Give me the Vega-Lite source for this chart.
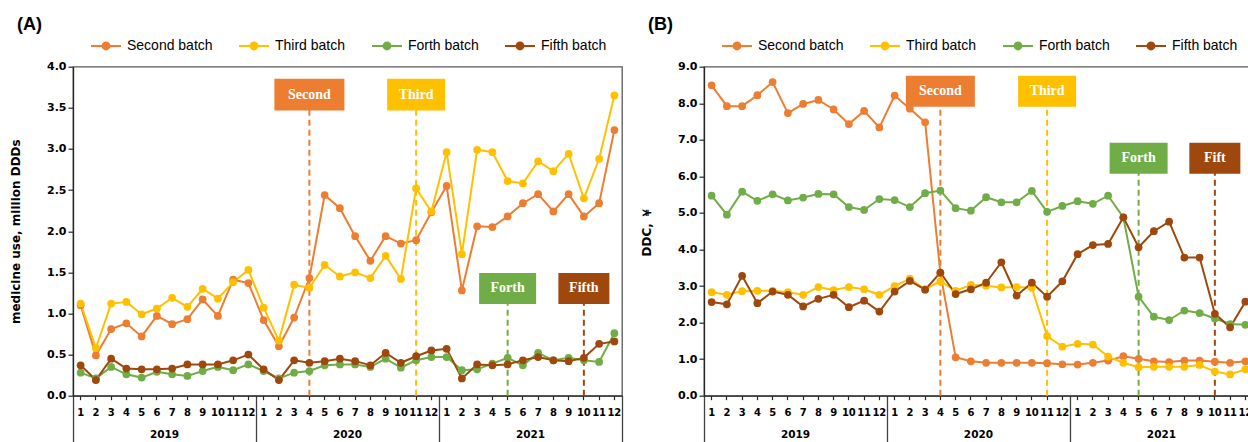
{
  "$schema": "https://vega.github.io/schema/vega-lite/v6.json",
  "background": "white",
  "padding": {"left": 8, "top": 14.7, "right": 0, "bottom": 0},
  "spacing": 15,
  "config": {
    "font": "Liberation Sans",
    "view": {"stroke": "#595959", "strokeWidth": 1.3},
    "axis": {"labelFont": "DejaVu Sans", "labelFontWeight": "bold", "labelColor": "#000", "domainColor": "#262626", "domainWidth": 1.3, "tickColor": "#262626", "tickWidth": 1.2, "grid": false, "titleFont": "DejaVu Sans", "titleFontWeight": "bold", "titleColor": "#000"},
    "axisY": {"format": ".1f", "labelFontSize": 11, "labelOverlap": false, "labelSeparation": 0, "tickSize": 5, "labelPadding": 2, "titleFontSize": 12, "titlePadding": 24},
    "legend": {"orient": "none", "direction": "horizontal", "columns": 4, "columnPadding": 22, "padding": 0, "labelFont": "Liberation Sans", "labelFontSize": 14, "labelColor": "#000", "labelOffset": 5, "symbolType": "M-1,0L1,0M0.23,0A0.23,0.23,0,1,1,-0.23,0A0.23,0.23,0,1,1,0.23,0M0.13,0A0.13,0.13,0,1,1,-0.13,0A0.13,0.13,0,1,1,0.13,0M0.04,0A0.04,0.04,0,1,1,-0.04,0A0.04,0.04,0,1,1,0.04,0", "symbolSize": 900, "symbolStrokeWidth": 2, "title": null}
  },
  "resolve": {"scale": {"color": "independent"}, "legend": {"color": "independent"}},
  "hconcat": [
    {
      "width": 549, "height": 329,
      "title": {"text": "(A)", "anchor": "start", "frame": "group", "font": "Liberation Sans", "fontSize": 18, "fontWeight": "bold", "color": "#000", "dx": -56, "dy": 4, "offset": 0},
      "resolve": {"axis": {"x": "independent"}},
      "layer": [
        {
          "data": {"values": [{"t": "2020-04", "label": "Second"}]},
          "layer": [
            {"mark": {"type": "rule", "color": "#ED7D31", "strokeWidth": 2, "strokeDash": [6, 4]},
             "encoding": {"x": {"field": "t", "type": "ordinal", "scale": {"type": "band", "paddingInner": 0, "paddingOuter": 0}, "axis": {"orient": "bottom", "values": ["2019-01", "2020-01", "2021-01"], "bandPosition": 0, "tickSize": 47, "labels": false, "domain": false, "title": null, "tickColor": "#404040", "tickWidth": 1.3}},
                          "y": {"datum": 0, "type": "quantitative", "axis": {"values": [0, 0.5, 1, 1.5, 2, 2.5, 3, 3.5, 4], "title": "medicine use, million DDDs"}}, "y2": {"datum": 3.66}}},
            {"mark": {"type": "rect", "color": "#ED7D31", "width": 70},
             "encoding": {"x": {"field": "t", "type": "ordinal"}, "y": {"datum": 3.854, "type": "quantitative", "axis": {"values": [0, 0.5, 1, 1.5, 2, 2.5, 3, 3.5, 4], "title": "medicine use, million DDDs"}}, "y2": {"datum": 3.468}}},
            {"mark": {"type": "text", "color": "white", "font": "Liberation Serif", "fontWeight": "bold", "fontSize": 14, "baseline": "middle", "align": "center"},
             "encoding": {"x": {"field": "t", "type": "ordinal"}, "y": {"datum": 3.661, "type": "quantitative", "axis": {"values": [0, 0.5, 1, 1.5, 2, 2.5, 3, 3.5, 4], "title": "medicine use, million DDDs"}}, "text": {"field": "label"}}}
          ]
        },
        {
          "data": {"values": [{"t": "2020-11", "label": "Third"}]},
          "layer": [
            {"mark": {"type": "rule", "color": "#FFC000", "strokeWidth": 2, "strokeDash": [6, 4]},
             "encoding": {"x": {"field": "t", "type": "ordinal", "axis": {"orient": "bottom", "values": ["2021-12"], "bandPosition": 1, "tickSize": 47, "labels": false, "domain": false, "title": null, "tickColor": "#404040", "tickWidth": 1.3}},
                          "y": {"datum": 0, "type": "quantitative", "axis": {"values": [0, 0.5, 1, 1.5, 2, 2.5, 3, 3.5, 4], "title": "medicine use, million DDDs"}}, "y2": {"datum": 3.66}}},
            {"mark": {"type": "rect", "color": "#FFC000", "width": 58},
             "encoding": {"x": {"field": "t", "type": "ordinal"}, "y": {"datum": 3.854, "type": "quantitative", "axis": {"values": [0, 0.5, 1, 1.5, 2, 2.5, 3, 3.5, 4], "title": "medicine use, million DDDs"}}, "y2": {"datum": 3.468}}},
            {"mark": {"type": "text", "color": "white", "font": "Liberation Serif", "fontWeight": "bold", "fontSize": 14, "baseline": "middle", "align": "center"},
             "encoding": {"x": {"field": "t", "type": "ordinal"}, "y": {"datum": 3.661, "type": "quantitative", "axis": {"values": [0, 0.5, 1, 1.5, 2, 2.5, 3, 3.5, 4], "title": "medicine use, million DDDs"}}, "text": {"field": "label"}}}
          ]
        },
        {
          "data": {"values": [{"t": "2021-05", "label": "Forth"}]},
          "layer": [
            {"mark": {"type": "rule", "color": "#70AD47", "strokeWidth": 2, "strokeDash": [6, 4]},
             "encoding": {"x": {"field": "t", "type": "ordinal", "axis": null}, "y": {"datum": 0, "type": "quantitative", "axis": {"values": [0, 0.5, 1, 1.5, 2, 2.5, 3, 3.5, 4], "title": "medicine use, million DDDs"}}, "y2": {"datum": 1.3}}},
            {"mark": {"type": "rect", "color": "#70AD47", "width": 57},
             "encoding": {"x": {"field": "t", "type": "ordinal", "axis": null}, "y": {"datum": 1.493, "type": "quantitative", "axis": {"values": [0, 0.5, 1, 1.5, 2, 2.5, 3, 3.5, 4], "title": "medicine use, million DDDs"}}, "y2": {"datum": 1.116}}},
            {"mark": {"type": "text", "color": "white", "font": "Liberation Serif", "fontWeight": "bold", "fontSize": 14, "baseline": "middle", "align": "center"},
             "encoding": {"x": {"field": "t", "type": "ordinal", "axis": null}, "y": {"datum": 1.305, "type": "quantitative", "axis": {"values": [0, 0.5, 1, 1.5, 2, 2.5, 3, 3.5, 4], "title": "medicine use, million DDDs"}}, "text": {"field": "label"}}}
          ]
        },
        {
          "data": {"values": [{"t": "2021-10", "label": "Fifth"}]},
          "layer": [
            {"mark": {"type": "rule", "color": "#9E480E", "strokeWidth": 2, "strokeDash": [6, 4]},
             "encoding": {"x": {"field": "t", "type": "ordinal", "axis": null}, "y": {"datum": 0, "type": "quantitative", "axis": {"values": [0, 0.5, 1, 1.5, 2, 2.5, 3, 3.5, 4], "title": "medicine use, million DDDs"}}, "y2": {"datum": 1.3}}},
            {"mark": {"type": "rect", "color": "#9E480E", "width": 51},
             "encoding": {"x": {"field": "t", "type": "ordinal", "axis": null}, "y": {"datum": 1.493, "type": "quantitative", "axis": {"values": [0, 0.5, 1, 1.5, 2, 2.5, 3, 3.5, 4], "title": "medicine use, million DDDs"}}, "y2": {"datum": 1.116}}},
            {"mark": {"type": "text", "color": "white", "font": "Liberation Serif", "fontWeight": "bold", "fontSize": 14, "baseline": "middle", "align": "center"},
             "encoding": {"x": {"field": "t", "type": "ordinal", "axis": null}, "y": {"datum": 1.305, "type": "quantitative", "axis": {"values": [0, 0.5, 1, 1.5, 2, 2.5, 3, 3.5, 4], "title": "medicine use, million DDDs"}}, "text": {"field": "label"}}}
          ]
        },
        {
          "data": {"name": "a"},
          "transform": [{"fold": ["Second batch", "Third batch", "Forth batch", "Fifth batch"], "as": ["batch", "v"]}],
          "mark": {"type": "line", "strokeWidth": 2},
          "encoding": {
            "x": {"field": "t", "type": "ordinal", "axis": {"orient": "bottom", "labelExpr": "toNumber(substring(datum.value,5,7))", "labelAngle": 0, "labelFontSize": 10, "tickSize": 4, "labelPadding": 8, "labelOverlap": false, "title": null}},
            "y": {"field": "v", "type": "quantitative", "scale": {"domain": [0, 4], "nice": false}, "axis": {"values": [0, 0.5, 1, 1.5, 2, 2.5, 3, 3.5, 4], "title": "medicine use, million DDDs"}},
            "color": {"field": "batch", "type": "nominal", "sort": null, "scale": {"domain": ["Second batch", "Third batch", "Forth batch", "Fifth batch"], "range": ["#ED7D31", "#FFC000", "#70AD47", "#9E480E"]}, "legend": {"legendX": 17, "legendY": -37}}
          }
        },
        {
          "data": {"name": "a"},
          "transform": [{"fold": ["Second batch", "Third batch", "Forth batch", "Fifth batch"], "as": ["batch", "v"]}],
          "mark": {"type": "point", "filled": true, "opacity": 1, "size": 60},
          "encoding": {
            "x": {"field": "t", "type": "ordinal", "axis": {"orient": "bottom", "labelExpr": "substring(datum.value,5,7)=='06' ? substring(datum.value,0,4) : ''", "labelOffset": 7.6, "ticks": false, "tickSize": 0, "domain": false, "labelPadding": 34, "labelFontSize": 10.5, "labelOverlap": false, "labelAngle": 0, "title": null}},
            "y": {"field": "v", "type": "quantitative", "axis": {"values": [0, 0.5, 1, 1.5, 2, 2.5, 3, 3.5, 4], "title": "medicine use, million DDDs"}},
            "color": {"field": "batch", "type": "nominal", "legend": null}
          }
        }
      ]
    },
    {
      "width": 549, "height": 329,
      "title": {"text": "(B)", "anchor": "start", "frame": "group", "font": "Liberation Sans", "fontSize": 18, "fontWeight": "bold", "color": "#000", "dx": -56, "dy": 4, "offset": 0},
      "resolve": {"axis": {"x": "independent"}},
      "layer": [
        {
          "data": {"values": [{"t": "2020-04", "label": "Second"}]},
          "layer": [
            {"mark": {"type": "rule", "color": "#ED7D31", "strokeWidth": 2, "strokeDash": [6, 4]},
             "encoding": {"x": {"field": "t", "type": "ordinal", "scale": {"type": "band", "paddingInner": 0, "paddingOuter": 0}, "axis": {"orient": "bottom", "values": ["2019-01", "2020-01", "2021-01"], "bandPosition": 0, "tickSize": 47, "labels": false, "domain": false, "title": null, "tickColor": "#404040", "tickWidth": 1.3}},
                          "y": {"datum": 0, "type": "quantitative", "axis": {"values": [0, 1, 2, 3, 4, 5, 6, 7, 8, 9], "title": "DDC, ￥"}}, "y2": {"datum": 8.33}}},
            {"mark": {"type": "rect", "color": "#ED7D31", "width": 69},
             "encoding": {"x": {"field": "t", "type": "ordinal"}, "y": {"datum": 8.752, "type": "quantitative", "axis": {"values": [0, 1, 2, 3, 4, 5, 6, 7, 8, 9], "title": "DDC, ￥"}}, "y2": {"datum": 7.903}}},
            {"mark": {"type": "text", "color": "white", "font": "Liberation Serif", "fontWeight": "bold", "fontSize": 14, "baseline": "middle", "align": "center"},
             "encoding": {"x": {"field": "t", "type": "ordinal"}, "y": {"datum": 8.33, "type": "quantitative", "axis": {"values": [0, 1, 2, 3, 4, 5, 6, 7, 8, 9], "title": "DDC, ￥"}}, "text": {"field": "label"}}}
          ]
        },
        {
          "data": {"values": [{"t": "2020-11", "label": "Third"}]},
          "layer": [
            {"mark": {"type": "rule", "color": "#FFC000", "strokeWidth": 2, "strokeDash": [6, 4]},
             "encoding": {"x": {"field": "t", "type": "ordinal", "axis": {"orient": "bottom", "values": ["2021-12"], "bandPosition": 1, "tickSize": 47, "labels": false, "domain": false, "title": null, "tickColor": "#404040", "tickWidth": 1.3}},
                          "y": {"datum": 0, "type": "quantitative", "axis": {"values": [0, 1, 2, 3, 4, 5, 6, 7, 8, 9], "title": "DDC, ￥"}}, "y2": {"datum": 8.33}}},
            {"mark": {"type": "rect", "color": "#FFC000", "width": 58},
             "encoding": {"x": {"field": "t", "type": "ordinal"}, "y": {"datum": 8.752, "type": "quantitative", "axis": {"values": [0, 1, 2, 3, 4, 5, 6, 7, 8, 9], "title": "DDC, ￥"}}, "y2": {"datum": 7.903}}},
            {"mark": {"type": "text", "color": "white", "font": "Liberation Serif", "fontWeight": "bold", "fontSize": 14, "baseline": "middle", "align": "center"},
             "encoding": {"x": {"field": "t", "type": "ordinal"}, "y": {"datum": 8.33, "type": "quantitative", "axis": {"values": [0, 1, 2, 3, 4, 5, 6, 7, 8, 9], "title": "DDC, ￥"}}, "text": {"field": "label"}}}
          ]
        },
        {
          "data": {"values": [{"t": "2021-05", "label": "Forth"}]},
          "layer": [
            {"mark": {"type": "rule", "color": "#70AD47", "strokeWidth": 2, "strokeDash": [6, 4]},
             "encoding": {"x": {"field": "t", "type": "ordinal", "axis": null}, "y": {"datum": 0, "type": "quantitative", "axis": {"values": [0, 1, 2, 3, 4, 5, 6, 7, 8, 9], "title": "DDC, ￥"}}, "y2": {"datum": 6.49}}},
            {"mark": {"type": "rect", "color": "#70AD47", "width": 58},
             "encoding": {"x": {"field": "t", "type": "ordinal", "axis": null}, "y": {"datum": 6.918, "type": "quantitative", "axis": {"values": [0, 1, 2, 3, 4, 5, 6, 7, 8, 9], "title": "DDC, ￥"}}, "y2": {"datum": 6.069}}},
            {"mark": {"type": "text", "color": "white", "font": "Liberation Serif", "fontWeight": "bold", "fontSize": 14, "baseline": "middle", "align": "center"},
             "encoding": {"x": {"field": "t", "type": "ordinal", "axis": null}, "y": {"datum": 6.49, "type": "quantitative", "axis": {"values": [0, 1, 2, 3, 4, 5, 6, 7, 8, 9], "title": "DDC, ￥"}}, "text": {"field": "label"}}}
          ]
        },
        {
          "data": {"values": [{"t": "2021-10", "label": "Fift"}]},
          "layer": [
            {"mark": {"type": "rule", "color": "#9E480E", "strokeWidth": 2, "strokeDash": [6, 4]},
             "encoding": {"x": {"field": "t", "type": "ordinal", "axis": null}, "y": {"datum": 0, "type": "quantitative", "axis": {"values": [0, 1, 2, 3, 4, 5, 6, 7, 8, 9], "title": "DDC, ￥"}}, "y2": {"datum": 6.49}}},
            {"mark": {"type": "rect", "color": "#9E480E", "width": 51},
             "encoding": {"x": {"field": "t", "type": "ordinal", "axis": null}, "y": {"datum": 6.918, "type": "quantitative", "axis": {"values": [0, 1, 2, 3, 4, 5, 6, 7, 8, 9], "title": "DDC, ￥"}}, "y2": {"datum": 6.069}}},
            {"mark": {"type": "text", "color": "white", "font": "Liberation Serif", "fontWeight": "bold", "fontSize": 14, "baseline": "middle", "align": "center"},
             "encoding": {"x": {"field": "t", "type": "ordinal", "axis": null}, "y": {"datum": 6.49, "type": "quantitative", "axis": {"values": [0, 1, 2, 3, 4, 5, 6, 7, 8, 9], "title": "DDC, ￥"}}, "text": {"field": "label"}}}
          ]
        },
        {
          "data": {"name": "b"},
          "transform": [{"fold": ["Second batch", "Third batch", "Forth batch", "Fifth batch"], "as": ["batch", "v"]}],
          "mark": {"type": "line", "strokeWidth": 2},
          "encoding": {
            "x": {"field": "t", "type": "ordinal", "axis": {"orient": "bottom", "labelExpr": "toNumber(substring(datum.value,5,7))", "labelAngle": 0, "labelFontSize": 10, "tickSize": 4, "labelPadding": 8, "labelOverlap": false, "title": null}},
            "y": {"field": "v", "type": "quantitative", "scale": {"domain": [0, 9], "nice": false}, "axis": {"values": [0, 1, 2, 3, 4, 5, 6, 7, 8, 9], "title": "DDC, ￥"}},
            "color": {"field": "batch", "type": "nominal", "sort": null, "scale": {"domain": ["Second batch", "Third batch", "Forth batch", "Fifth batch"], "range": ["#ED7D31", "#FFC000", "#70AD47", "#9E480E"]}, "legend": {"legendX": 17, "legendY": -37}}
          }
        },
        {
          "data": {"name": "b"},
          "transform": [{"fold": ["Second batch", "Third batch", "Forth batch", "Fifth batch"], "as": ["batch", "v"]}],
          "mark": {"type": "point", "filled": true, "opacity": 1, "size": 60},
          "encoding": {
            "x": {"field": "t", "type": "ordinal", "axis": {"orient": "bottom", "labelExpr": "substring(datum.value,5,7)=='06' ? substring(datum.value,0,4) : ''", "labelOffset": 7.6, "ticks": false, "tickSize": 0, "domain": false, "labelPadding": 34, "labelFontSize": 10.5, "labelOverlap": false, "labelAngle": 0, "title": null}},
            "y": {"field": "v", "type": "quantitative", "axis": {"values": [0, 1, 2, 3, 4, 5, 6, 7, 8, 9], "title": "DDC, ￥"}},
            "color": {"field": "batch", "type": "nominal", "legend": null}
          }
        }
      ]
    }
  ],
  "datasets": {
    "a": [
      {"t": "2019-01", "Second batch": 1.10, "Third batch": 1.12, "Forth batch": 0.28, "Fifth batch": 0.37},
      {"t": "2019-02", "Second batch": 0.49, "Third batch": 0.58, "Forth batch": 0.21, "Fifth batch": 0.19},
      {"t": "2019-03", "Second batch": 0.81, "Third batch": 1.12, "Forth batch": 0.35, "Fifth batch": 0.45},
      {"t": "2019-04", "Second batch": 0.88, "Third batch": 1.14, "Forth batch": 0.26, "Fifth batch": 0.33},
      {"t": "2019-05", "Second batch": 0.72, "Third batch": 0.99, "Forth batch": 0.22, "Fifth batch": 0.32},
      {"t": "2019-06", "Second batch": 0.97, "Third batch": 1.06, "Forth batch": 0.29, "Fifth batch": 0.32},
      {"t": "2019-07", "Second batch": 0.87, "Third batch": 1.19, "Forth batch": 0.26, "Fifth batch": 0.33},
      {"t": "2019-08", "Second batch": 0.93, "Third batch": 1.08, "Forth batch": 0.24, "Fifth batch": 0.38},
      {"t": "2019-09", "Second batch": 1.17, "Third batch": 1.30, "Forth batch": 0.30, "Fifth batch": 0.38},
      {"t": "2019-10", "Second batch": 0.97, "Third batch": 1.18, "Forth batch": 0.35, "Fifth batch": 0.38},
      {"t": "2019-11", "Second batch": 1.41, "Third batch": 1.38, "Forth batch": 0.31, "Fifth batch": 0.43},
      {"t": "2019-12", "Second batch": 1.37, "Third batch": 1.53, "Forth batch": 0.38, "Fifth batch": 0.50},
      {"t": "2020-01", "Second batch": 0.92, "Third batch": 1.07, "Forth batch": 0.30, "Fifth batch": 0.32},
      {"t": "2020-02", "Second batch": 0.60, "Third batch": 0.67, "Forth batch": 0.21, "Fifth batch": 0.19},
      {"t": "2020-03", "Second batch": 0.95, "Third batch": 1.35, "Forth batch": 0.28, "Fifth batch": 0.43},
      {"t": "2020-04", "Second batch": 1.43, "Third batch": 1.31, "Forth batch": 0.30, "Fifth batch": 0.40},
      {"t": "2020-05", "Second batch": 2.44, "Third batch": 1.59, "Forth batch": 0.37, "Fifth batch": 0.42},
      {"t": "2020-06", "Second batch": 2.28, "Third batch": 1.45, "Forth batch": 0.38, "Fifth batch": 0.45},
      {"t": "2020-07", "Second batch": 1.94, "Third batch": 1.50, "Forth batch": 0.38, "Fifth batch": 0.42},
      {"t": "2020-08", "Second batch": 1.64, "Third batch": 1.43, "Forth batch": 0.35, "Fifth batch": 0.37},
      {"t": "2020-09", "Second batch": 1.94, "Third batch": 1.70, "Forth batch": 0.45, "Fifth batch": 0.52},
      {"t": "2020-10", "Second batch": 1.85, "Third batch": 1.42, "Forth batch": 0.34, "Fifth batch": 0.40},
      {"t": "2020-11", "Second batch": 1.89, "Third batch": 2.52, "Forth batch": 0.43, "Fifth batch": 0.48},
      {"t": "2020-12", "Second batch": 2.23, "Third batch": 2.24, "Forth batch": 0.47, "Fifth batch": 0.55},
      {"t": "2021-01", "Second batch": 2.55, "Third batch": 2.96, "Forth batch": 0.47, "Fifth batch": 0.57},
      {"t": "2021-02", "Second batch": 1.28, "Third batch": 1.72, "Forth batch": 0.31, "Fifth batch": 0.21},
      {"t": "2021-03", "Second batch": 2.06, "Third batch": 2.99, "Forth batch": 0.32, "Fifth batch": 0.38},
      {"t": "2021-04", "Second batch": 2.05, "Third batch": 2.96, "Forth batch": 0.39, "Fifth batch": 0.37},
      {"t": "2021-05", "Second batch": 2.18, "Third batch": 2.61, "Forth batch": 0.46, "Fifth batch": 0.38},
      {"t": "2021-06", "Second batch": 2.34, "Third batch": 2.58, "Forth batch": 0.37, "Fifth batch": 0.43},
      {"t": "2021-07", "Second batch": 2.45, "Third batch": 2.85, "Forth batch": 0.52, "Fifth batch": 0.47},
      {"t": "2021-08", "Second batch": 2.24, "Third batch": 2.73, "Forth batch": 0.43, "Fifth batch": 0.43},
      {"t": "2021-09", "Second batch": 2.45, "Third batch": 2.94, "Forth batch": 0.46, "Fifth batch": 0.42},
      {"t": "2021-10", "Second batch": 2.18, "Third batch": 2.40, "Forth batch": 0.43, "Fifth batch": 0.46},
      {"t": "2021-11", "Second batch": 2.34, "Third batch": 2.88, "Forth batch": 0.41, "Fifth batch": 0.63},
      {"t": "2021-12", "Second batch": 3.23, "Third batch": 3.65, "Forth batch": 0.76, "Fifth batch": 0.66}
    ],
    "b": [
      {"t": "2019-01", "Second batch": 8.49, "Third batch": 2.83, "Forth batch": 5.47, "Fifth batch": 2.56},
      {"t": "2019-02", "Second batch": 7.92, "Third batch": 2.76, "Forth batch": 4.95, "Fifth batch": 2.50},
      {"t": "2019-03", "Second batch": 7.92, "Third batch": 2.86, "Forth batch": 5.58, "Fifth batch": 3.28},
      {"t": "2019-04", "Second batch": 8.22, "Third batch": 2.87, "Forth batch": 5.33, "Fifth batch": 2.53},
      {"t": "2019-05", "Second batch": 8.58, "Third batch": 2.87, "Forth batch": 5.51, "Fifth batch": 2.85},
      {"t": "2019-06", "Second batch": 7.73, "Third batch": 2.83, "Forth batch": 5.34, "Fifth batch": 2.76},
      {"t": "2019-07", "Second batch": 7.98, "Third batch": 2.76, "Forth batch": 5.42, "Fifth batch": 2.44},
      {"t": "2019-08", "Second batch": 8.09, "Third batch": 2.97, "Forth batch": 5.52, "Fifth batch": 2.65},
      {"t": "2019-09", "Second batch": 7.83, "Third batch": 2.89, "Forth batch": 5.51, "Fifth batch": 2.76},
      {"t": "2019-10", "Second batch": 7.43, "Third batch": 2.97, "Forth batch": 5.16, "Fifth batch": 2.42},
      {"t": "2019-11", "Second batch": 7.79, "Third batch": 2.91, "Forth batch": 5.08, "Fifth batch": 2.60},
      {"t": "2019-12", "Second batch": 7.34, "Third batch": 2.76, "Forth batch": 5.38, "Fifth batch": 2.30},
      {"t": "2020-01", "Second batch": 8.21, "Third batch": 3.00, "Forth batch": 5.35, "Fifth batch": 2.85},
      {"t": "2020-02", "Second batch": 7.85, "Third batch": 3.20, "Forth batch": 5.16, "Fifth batch": 3.14},
      {"t": "2020-03", "Second batch": 7.48, "Third batch": 2.91, "Forth batch": 5.54, "Fifth batch": 2.90},
      {"t": "2020-04", "Second batch": 3.35, "Third batch": 3.13, "Forth batch": 5.61, "Fifth batch": 3.37},
      {"t": "2020-05", "Second batch": 1.05, "Third batch": 2.87, "Forth batch": 5.13, "Fifth batch": 2.78},
      {"t": "2020-06", "Second batch": 0.94, "Third batch": 3.03, "Forth batch": 5.06, "Fifth batch": 2.91},
      {"t": "2020-07", "Second batch": 0.90, "Third batch": 3.01, "Forth batch": 5.43, "Fifth batch": 3.09},
      {"t": "2020-08", "Second batch": 0.90, "Third batch": 2.96, "Forth batch": 5.29, "Fifth batch": 3.65},
      {"t": "2020-09", "Second batch": 0.90, "Third batch": 2.97, "Forth batch": 5.29, "Fifth batch": 2.74},
      {"t": "2020-10", "Second batch": 0.90, "Third batch": 2.95, "Forth batch": 5.60, "Fifth batch": 3.09},
      {"t": "2020-11", "Second batch": 0.89, "Third batch": 1.63, "Forth batch": 5.03, "Fifth batch": 2.71},
      {"t": "2020-12", "Second batch": 0.86, "Third batch": 1.34, "Forth batch": 5.19, "Fifth batch": 3.13},
      {"t": "2021-01", "Second batch": 0.85, "Third batch": 1.42, "Forth batch": 5.32, "Fifth batch": 3.87},
      {"t": "2021-02", "Second batch": 0.90, "Third batch": 1.40, "Forth batch": 5.25, "Fifth batch": 4.12},
      {"t": "2021-03", "Second batch": 0.96, "Third batch": 1.07, "Forth batch": 5.47, "Fifth batch": 4.15},
      {"t": "2021-04", "Second batch": 1.08, "Third batch": 0.90, "Forth batch": 4.88, "Fifth batch": 4.88},
      {"t": "2021-05", "Second batch": 1.01, "Third batch": 0.78, "Forth batch": 2.71, "Fifth batch": 4.06},
      {"t": "2021-06", "Second batch": 0.94, "Third batch": 0.79, "Forth batch": 2.16, "Fifth batch": 4.50},
      {"t": "2021-07", "Second batch": 0.92, "Third batch": 0.79, "Forth batch": 2.07, "Fifth batch": 4.76},
      {"t": "2021-08", "Second batch": 0.96, "Third batch": 0.79, "Forth batch": 2.33, "Fifth batch": 3.78},
      {"t": "2021-09", "Second batch": 0.96, "Third batch": 0.84, "Forth batch": 2.26, "Fifth batch": 3.78},
      {"t": "2021-10", "Second batch": 0.93, "Third batch": 0.66, "Forth batch": 2.11, "Fifth batch": 2.24},
      {"t": "2021-11", "Second batch": 0.90, "Third batch": 0.58, "Forth batch": 1.96, "Fifth batch": 1.87},
      {"t": "2021-12", "Second batch": 0.94, "Third batch": 0.72, "Forth batch": 1.94, "Fifth batch": 2.57}
    ]
  }
}
